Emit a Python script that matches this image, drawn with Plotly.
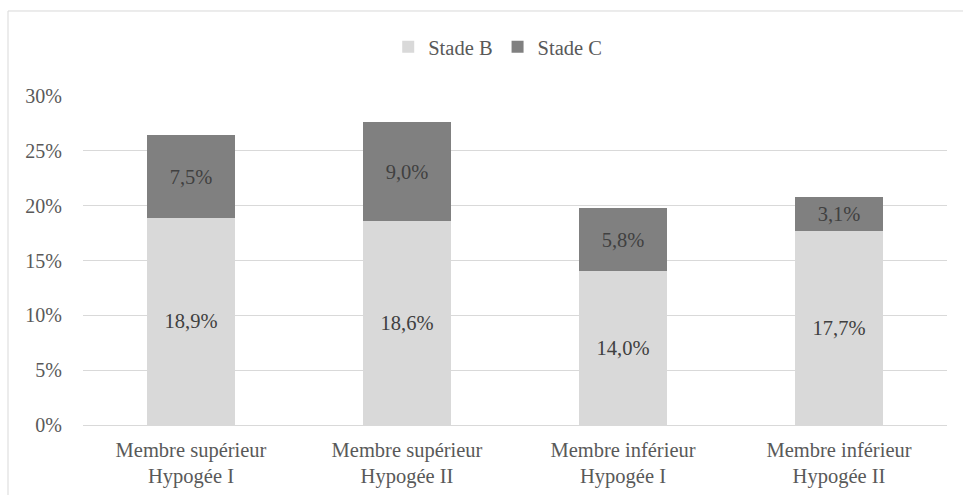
import plotly.graph_objects as go

# Categories (two-line labels) and stacked shares per stage
categories = [
    "Membre supérieur<br>Hypogée I",
    "Membre supérieur<br>Hypogée II",
    "Membre inférieur<br>Hypogée I",
    "Membre inférieur<br>Hypogée II",
]
stade_b = [0.189, 0.186, 0.140, 0.177]
stade_c = [0.075, 0.090, 0.058, 0.031]
y_ticks = [0.0, 0.05, 0.10, 0.15, 0.20, 0.25, 0.30]

FONT = "Liberation Serif"
TEXT_GREY = "#595959"
LABEL_GREY = "#404040"
GRID = "#D9D9D9"

fig = go.Figure()
fig.add_trace(go.Bar(
    name="Stade B", x=categories, y=stade_b,
    marker=dict(color="#D9D9D9", line=dict(width=0)),
    texttemplate="%{y:.1%}", textposition="inside", insidetextanchor="middle",
    textfont=dict(family=FONT, size=20.5, color=LABEL_GREY),
    hoverinfo="skip",
))
fig.add_trace(go.Bar(
    name="Stade C", x=categories, y=stade_c,
    marker=dict(color="#808080", line=dict(width=0)),
    texttemplate="%{y:.1%}", textposition="inside", insidetextanchor="middle",
    textfont=dict(family=FONT, size=20.5, color=LABEL_GREY),
    hoverinfo="skip",
))

fig.update_layout(
    width=963, height=495,
    barmode="stack", bargap=0.597,
    separators=", ",
    paper_bgcolor="white", plot_bgcolor="white",
    margin=dict(l=83, r=16, t=96, b=70),
    font=dict(family=FONT, size=20, color=TEXT_GREY),
    uniformtext=dict(minsize=20, mode="show"),
    showlegend=True,
    legend=dict(
        orientation="h", x=0.48, xanchor="center", y=1.149, yanchor="middle",
        font=dict(family=FONT, size=20.5, color=TEXT_GREY),
        itemwidth=30, traceorder="normal", bgcolor="rgba(0,0,0,0)",
    ),
    xaxis=dict(
        showgrid=False, showline=False, ticks="", automargin=False,
        ticklabelstandoff=10,
        tickfont=dict(family=FONT, size=20.5, color=TEXT_GREY),
    ),
    yaxis=dict(
        range=[0, 0.30], tickvals=y_ticks, tickformat=".0%", automargin=False,
        showgrid=True, gridcolor=GRID, gridwidth=1,
        zeroline=True, zerolinecolor=GRID, zerolinewidth=1,
        showline=False, ticks="", ticklabelstandoff=20,
        tickfont=dict(family=FONT, size=20, color=TEXT_GREY),
    ),
    shapes=[dict(
        type="rect", xref="paper", yref="paper",
        x0=-0.0868, x1=1.03, y0=-0.25, y1=1.2584,
        line=dict(color=GRID, width=1), fillcolor="rgba(0,0,0,0)",
        layer="below",
    )],
)

fig.write_html("out.html")
